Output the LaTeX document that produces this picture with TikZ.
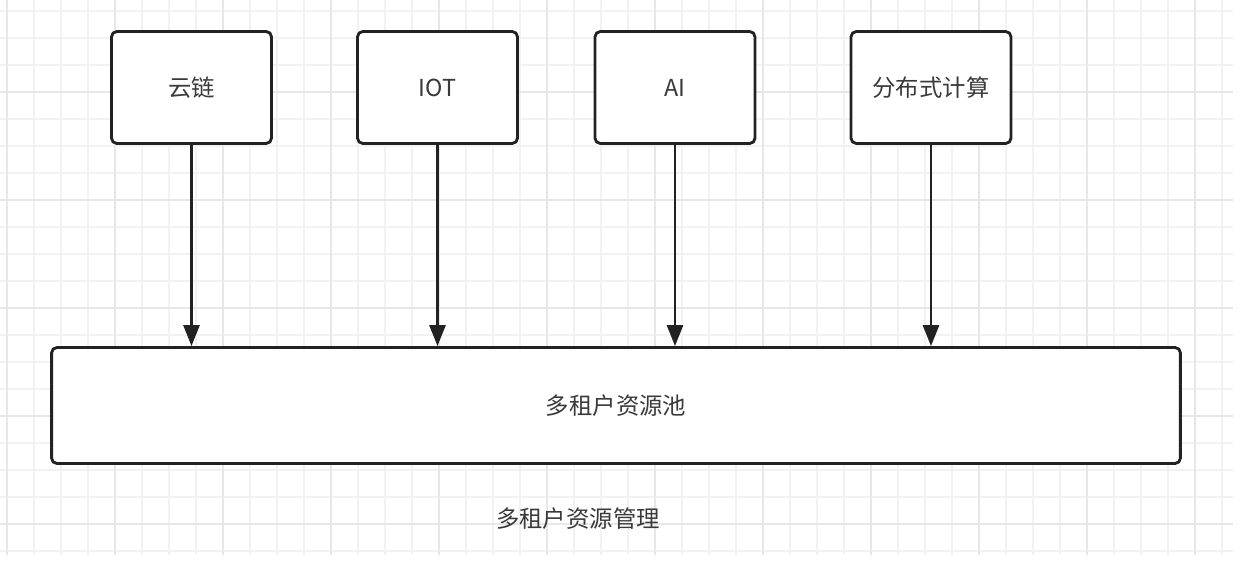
\documentclass[tikz,border=0pt]{standalone}
\usepackage{fontspec}
\newfontfamily\cjk{Noto Sans CJK SC}
\usetikzlibrary{arrows.meta}

\definecolor{gridminor}{HTML}{F2F2F2}
\definecolor{gridmajor}{HTML}{E7E7E7}
\definecolor{inkdark}{HTML}{222222}
\definecolor{txtgray}{HTML}{3A3A3A}

\begin{document}
\begin{tikzpicture}[
  x=0.02cm, y=-0.02cm,
  appbox/.style={draw=inkdark, fill=white, rounded corners=3pt, line width=1.6pt,
                 minimum width=3.2cm, minimum height=2.24cm, align=center,
                 font=\cjk\fontsize{13.3}{15}\selectfont, text=txtgray},
  poolbox/.style={draw=inkdark, fill=white, rounded corners=3pt, line width=1.6pt,
                  minimum width=22.58cm, minimum height=2.32cm, align=center,
                  font=\cjk\fontsize{13.3}{15}\selectfont, text=txtgray},
  feed/.style={draw=inkdark, line width=1.5pt,
               -{Triangle[length=0.42cm, width=0.32cm]}},
]
  \useasboundingbox (0,0) rectangle (1242,564);
  \fill[white] (0,0) rectangle (1242,564);

  % ═══ Background grid ═════════════════════════════════════════
  \foreach \gx in {7,34,...,1233} {
    \draw[gridminor, line width=0.6pt] (\gx,0) -- (\gx,555);
  }
  \foreach \gy in {11,38,...,555} {
    \draw[gridminor, line width=0.6pt] (0,\gy) -- (1233,\gy);
  }
  \foreach \gx in {7,115,...,1233} {
    \draw[gridmajor, line width=0.7pt] (\gx,0) -- (\gx,555);
  }
  \foreach \gy in {92,200,...,555} {
    \draw[gridmajor, line width=0.7pt] (0,\gy) -- (1233,\gy);
  }

  % ═══ Top row: applications ═══════════════════════════════════
  \node[appbox] (app_chain) at (191.5, 87.5) {云链};
  \node[appbox] (app_iot)   at (437.5, 87.5) {IOT};
  \node[appbox] (app_ai)    at (675, 87.5)   {AI};
  \node[appbox] (app_dist)  at (931, 87.5)   {分布式计算};

  % ═══ Bottom: resource pool ═══════════════════════════════════
  \node[poolbox] (pool) at (616, 405.5) {多租户资源池};

  % Links: each application → pool
  \foreach \s in {app_chain, app_iot, app_ai, app_dist} {
    \draw[feed] (\s.south) -- (\s.south |- pool.north);
  }

  % Caption
  \node[font=\cjk\fontsize{13.3}{15}\selectfont, text=txtgray] (caption) at (578, 519) {多租户资源管理};
\end{tikzpicture}
\end{document}
